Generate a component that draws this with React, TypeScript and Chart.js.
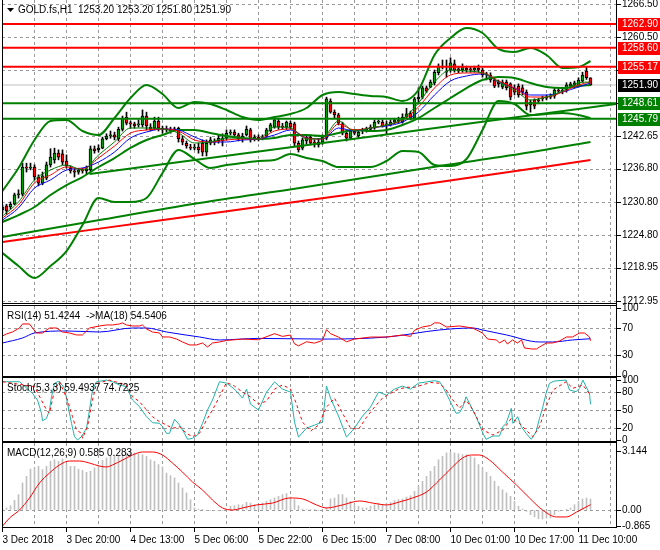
import React, { useEffect, useRef } from 'react';
import { Chart, registerables } from 'chart.js';

Chart.register(...registerables);

const FONT = '"Liberation Sans", Arial, sans-serif';
const GRID = '#9a9a9a';
const X_MIN = -0.125;
const X_MAX = 153.375;

// ---------- labels / ticks ----------
const symbolTitle = 'GOLD.fs,H1';
const xGridIdx = [0, 8, 16, 24, 32, 40, 48, 56, 64, 72, 80, 88, 96, 104, 112, 120, 128, 136, 144, 152];
const xTickLabels = ['3 Dec 2018', '3 Dec 20:00', '4 Dec 13:00', '5 Dec 06:00', '5 Dec 22:00', '6 Dec 15:00', '7 Dec 08:00', '10 Dec 01:00', '10 Dec 17:00', '11 Dec 10:00'];
const priceTicks = [1266.5, 1260.5, 1254.65, 1248.65, 1242.65, 1236.8, 1230.8, 1224.8, 1218.95, 1212.95];
const rsiTicks = [100, 70, 30, 0];
const rsiLevels = [70, 30];
const stochTicks = [100, 80, 50, 20, 0];
const stochLevels = [80, 50, 20];
const macdTicks = [3.144, 0, -0.865];
const macdTickLabels = ['3.144', '0.00', '-0.865'];
const macdLevels = [0];
const rsiLabel = 'RSI(14) 51.4244  ->MA(18) 54.5406';
const stochLabel = 'Stoch(5,3,3) 59.4937 74.7225';
const macdLabel = 'MACD(12,26,9) 0.585 0.283';

// ---------- price levels ----------
const redLevels = [1262.9, 1258.6, 1255.17];
const greenLevels = [1248.61, 1245.79];

// ---------- candles ----------
const openP = [1229.4, 1230.1, 1229.9, 1230.4, 1232.1, 1232.2, 1237.1, 1236.9, 1237.1, 1235.3,
  1234.2, 1235.1, 1237.5, 1238.4, 1239.6, 1239.5, 1238.2, 1236.9, 1236.4, 1236.2,
  1236.6, 1236.4, 1236.6, 1240.4, 1240.2, 1240.5, 1242.2, 1242.7, 1242.9, 1242.2,
  1243.9, 1246.1, 1245.0, 1244.9, 1244.7, 1244.7, 1246.3, 1244.3, 1244.1, 1245.4,
  1244.1, 1243.8, 1243.9, 1243.8, 1244.1, 1242.2, 1241.4, 1240.7, 1240.5, 1240.7,
  1241.4, 1239.8, 1241.4, 1241.8, 1241.8, 1241.8, 1242.3, 1243.2, 1243.4, 1242.9,
  1242.2, 1242.9, 1243.8, 1242.2, 1242.5, 1242.3, 1242.7, 1243.6, 1244.3, 1245.4,
  1244.5, 1244.3, 1245.0, 1244.9, 1241.4, 1240.5, 1241.8, 1242.5, 1241.6, 1241.6,
  1241.6, 1242.3, 1249.0, 1247.0, 1246.5, 1244.9, 1243.2, 1242.3, 1243.6, 1242.7,
  1243.6, 1243.8, 1243.9, 1244.1, 1245.2, 1245.2, 1244.7, 1244.7, 1245.2, 1245.4,
  1245.2, 1246.1, 1246.8, 1245.9, 1249.4, 1249.7, 1251.4, 1251.5, 1252.3, 1254.1,
  1255.3, 1254.2, 1254.6, 1255.7, 1254.8, 1254.6, 1254.9, 1254.8, 1254.6, 1254.9,
  1254.6, 1253.9, 1253.7, 1252.8, 1252.4, 1251.5, 1252.4, 1252.1, 1251.4, 1251.7,
  1251.4, 1250.6, 1248.8, 1249.2, 1249.2, 1249.5, 1249.5, 1249.7, 1249.9, 1251.0,
  1250.8, 1251.0, 1251.7, 1251.9, 1251.7, 1252.6, 1254.4, 1253.2];
const highP = [1230.3, 1230.4, 1230.8, 1232.4, 1233.0, 1237.8, 1237.8, 1237.8, 1237.5, 1235.7,
  1236.2, 1238.0, 1240.4, 1240.5, 1240.2, 1240.2, 1239.3, 1237.3, 1236.8, 1236.9,
  1236.9, 1237.3, 1240.9, 1240.9, 1241.1, 1242.5, 1243.1, 1243.6, 1243.4, 1244.3,
  1246.3, 1247.0, 1245.4, 1245.2, 1245.6, 1247.4, 1247.0, 1244.9, 1246.1, 1246.1,
  1244.5, 1244.5, 1244.3, 1244.3, 1244.3, 1242.7, 1241.8, 1241.2, 1241.2, 1241.4,
  1242.0, 1242.0, 1242.5, 1242.2, 1242.9, 1243.1, 1243.8, 1243.8, 1243.8, 1243.2,
  1243.2, 1244.5, 1244.1, 1242.9, 1242.9, 1242.9, 1244.1, 1245.0, 1245.9, 1245.8,
  1245.0, 1245.4, 1245.4, 1245.2, 1241.8, 1242.3, 1242.9, 1242.9, 1242.0, 1242.2,
  1242.9, 1249.7, 1249.4, 1247.4, 1246.8, 1245.2, 1243.8, 1243.9, 1243.9, 1243.8,
  1244.1, 1244.3, 1244.7, 1245.6, 1245.6, 1245.6, 1245.4, 1245.6, 1245.9, 1246.1,
  1246.7, 1247.7, 1247.2, 1249.7, 1251.4, 1251.7, 1251.7, 1252.8, 1254.6, 1255.7,
  1256.4, 1256.4, 1256.8, 1256.4, 1255.1, 1255.7, 1255.3, 1255.1, 1255.3, 1255.5,
  1254.9, 1254.2, 1254.1, 1253.2, 1252.8, 1252.8, 1252.8, 1252.3, 1251.9, 1252.1,
  1251.9, 1251.0, 1249.2, 1249.4, 1249.5, 1249.9, 1250.1, 1250.3, 1251.4, 1251.4,
  1251.5, 1252.3, 1252.4, 1252.6, 1253.2, 1254.2, 1255.1, 1253.2];
const lowP = [1228.8, 1228.6, 1229.5, 1230.3, 1231.5, 1231.9, 1236.2, 1236.6, 1234.8, 1233.7,
  1233.9, 1234.8, 1237.1, 1237.8, 1238.4, 1237.5, 1236.9, 1236.0, 1235.3, 1235.8,
  1236.0, 1235.8, 1236.2, 1239.6, 1239.8, 1240.4, 1242.0, 1242.3, 1242.0, 1241.8,
  1243.6, 1244.7, 1244.1, 1244.1, 1244.3, 1244.3, 1243.8, 1243.6, 1243.8, 1243.6,
  1243.2, 1243.4, 1243.2, 1243.6, 1241.6, 1241.1, 1240.5, 1240.2, 1240.2, 1239.6,
  1239.1, 1239.1, 1241.1, 1241.1, 1241.4, 1240.9, 1242.0, 1242.9, 1242.5, 1241.8,
  1241.6, 1242.7, 1241.6, 1241.8, 1241.8, 1242.0, 1242.5, 1243.4, 1244.1, 1243.9,
  1243.9, 1243.9, 1243.9, 1240.9, 1239.8, 1240.2, 1241.2, 1241.1, 1240.7, 1240.7,
  1241.2, 1242.0, 1246.8, 1245.9, 1244.7, 1242.9, 1241.8, 1242.2, 1242.9, 1242.3,
  1243.1, 1243.4, 1243.6, 1243.9, 1244.9, 1244.3, 1243.1, 1244.5, 1244.9, 1245.0,
  1245.0, 1245.9, 1245.6, 1245.8, 1248.6, 1249.4, 1250.5, 1251.4, 1251.9, 1253.7,
  1254.8, 1253.3, 1254.2, 1254.2, 1254.1, 1254.2, 1254.2, 1254.2, 1254.2, 1254.2,
  1253.3, 1252.8, 1252.4, 1251.4, 1251.5, 1251.2, 1251.0, 1249.2, 1250.1, 1249.7,
  1250.1, 1247.4, 1247.0, 1247.6, 1248.5, 1249.0, 1249.2, 1249.4, 1249.5, 1250.5,
  1250.3, 1250.6, 1251.4, 1251.4, 1251.5, 1252.4, 1252.9, 1251.8];
const closeP = [1229.9, 1229.2, 1230.4, 1232.1, 1232.2, 1237.1, 1236.9, 1237.1, 1235.3, 1234.2,
  1235.5, 1237.5, 1238.9, 1239.6, 1238.9, 1238.0, 1237.3, 1236.4, 1236.2, 1236.6,
  1236.4, 1236.8, 1240.4, 1240.0, 1240.5, 1242.2, 1242.7, 1242.9, 1242.5, 1243.9,
  1245.9, 1245.0, 1244.9, 1244.5, 1244.9, 1246.3, 1244.5, 1243.9, 1245.4, 1244.1,
  1243.8, 1243.9, 1243.6, 1243.9, 1242.2, 1241.6, 1240.9, 1240.5, 1240.7, 1240.2,
  1239.8, 1241.4, 1242.0, 1241.6, 1242.3, 1242.3, 1243.2, 1243.4, 1242.9, 1242.2,
  1242.7, 1243.9, 1242.0, 1242.5, 1242.2, 1242.5, 1243.8, 1244.7, 1245.6, 1244.3,
  1244.3, 1245.2, 1244.3, 1241.4, 1240.2, 1242.0, 1242.5, 1241.4, 1241.4, 1241.1,
  1242.5, 1249.4, 1247.0, 1246.5, 1245.0, 1243.2, 1242.3, 1243.6, 1243.2, 1243.4,
  1243.8, 1243.9, 1244.3, 1245.2, 1245.4, 1244.5, 1244.9, 1245.2, 1245.6, 1245.6,
  1246.1, 1246.7, 1245.9, 1249.4, 1249.7, 1251.4, 1250.8, 1252.4, 1254.2, 1255.3,
  1255.1, 1254.4, 1255.9, 1254.6, 1254.4, 1255.1, 1254.6, 1254.6, 1254.9, 1254.6,
  1253.7, 1253.7, 1252.8, 1251.7, 1252.1, 1252.4, 1251.4, 1249.7, 1250.6, 1250.1,
  1250.6, 1248.1, 1248.3, 1248.1, 1249.0, 1249.4, 1249.7, 1249.9, 1251.0, 1250.8,
  1251.0, 1251.9, 1252.1, 1252.3, 1252.8, 1253.7, 1253.2, 1251.9];

// ---------- main-panel indicators (sampled every 4 bars) ----------
const sampleIdx = [0, 4, 8, 12, 16, 20, 24, 28, 32, 36, 40, 44, 48, 52, 56, 60, 64, 68, 72, 76, 80, 84, 88, 92, 96, 100, 104, 108, 112, 116, 120, 124, 128, 132, 136, 140, 144, 147];
const bbUpper = [1232.78, 1236.93, 1241.98, 1245.40, 1245.58, 1243.60, 1242.88, 1245.94, 1249.55, 1251.90, 1250.27, 1247.75, 1248.83, 1248.47, 1247.39, 1246.12, 1245.58, 1246.12, 1246.67, 1247.75, 1250.09, 1250.63, 1250.27, 1249.91, 1249.73, 1249.01, 1250.99, 1257.30, 1260.37, 1262.17, 1261.27, 1258.39, 1257.84, 1258.57, 1257.30, 1254.96, 1255.14, 1256.22];
const bbMiddle = [1227.19, 1228.45, 1229.90, 1232.06, 1233.86, 1235.30, 1237.11, 1238.73, 1240.54, 1241.98, 1242.88, 1243.78, 1243.78, 1243.24, 1242.70, 1242.34, 1242.16, 1242.34, 1242.88, 1242.88, 1242.70, 1243.24, 1243.78, 1243.60, 1243.78, 1244.68, 1245.94, 1247.75, 1249.55, 1251.35, 1252.80, 1253.34, 1253.16, 1252.26, 1251.54, 1251.35, 1251.71, 1251.90];
const bbLower = [1221.60, 1219.26, 1217.09, 1219.26, 1221.96, 1226.65, 1231.52, 1230.80, 1230.80, 1231.52, 1236.03, 1240.17, 1238.55, 1236.93, 1237.47, 1237.83, 1238.19, 1238.37, 1239.45, 1238.73, 1238.19, 1237.11, 1237.11, 1237.11, 1238.19, 1239.99, 1239.81, 1237.47, 1237.29, 1238.55, 1243.78, 1249.01, 1248.47, 1246.49, 1246.67, 1246.85, 1246.49, 1245.94];
const maFastGreen = [1228.27, 1230.80, 1234.77, 1236.57, 1237.47, 1236.57, 1239.27, 1241.62, 1244.14, 1244.14, 1243.96, 1243.24, 1241.44, 1241.62, 1242.34, 1242.34, 1242.16, 1244.32, 1244.14, 1242.16, 1242.34, 1245.40, 1243.60, 1244.14, 1244.68, 1245.76, 1248.65, 1252.44, 1254.60, 1254.42, 1254.06, 1252.44, 1250.99, 1249.19, 1249.73, 1250.81, 1252.26, 1252.44];
const maFastRed = [1227.91, 1230.26, 1234.23, 1235.67, 1237.11, 1236.75, 1238.73, 1240.89, 1243.24, 1243.78, 1243.96, 1243.60, 1241.98, 1241.62, 1241.98, 1242.16, 1242.16, 1243.60, 1243.96, 1242.34, 1242.16, 1244.86, 1243.78, 1244.14, 1244.68, 1245.58, 1247.93, 1251.35, 1253.70, 1254.06, 1254.06, 1252.62, 1251.35, 1249.73, 1249.73, 1250.63, 1251.90, 1252.44];
const maFastBlue = [1227.55, 1229.72, 1233.32, 1234.77, 1236.57, 1236.93, 1238.01, 1239.81, 1242.34, 1243.42, 1243.96, 1243.78, 1242.52, 1241.62, 1241.62, 1241.98, 1242.16, 1242.88, 1243.78, 1242.34, 1242.16, 1244.14, 1243.60, 1244.14, 1244.50, 1245.22, 1247.03, 1250.09, 1252.62, 1253.52, 1253.88, 1252.44, 1251.35, 1250.09, 1250.09, 1250.63, 1251.54, 1252.26];
const slowGreenIdx = [0, 24.25, 49.25, 74.25, 109.25, 129.25, 147];
const slowGreenVal = [1224.49, 1227.55, 1230.62, 1233.32, 1237.29, 1239.45, 1241.62];
const slowRedIdx = [0, 24.25, 49.25, 78.5, 109.25, 147];
const slowRedVal = [1223.59, 1226.0, 1228.45, 1231.34, 1234.40, 1238.37];
const trendIdx = [21.75, 153.375];
const trendVal = [1235.85, 1248.47];

// ---------- RSI ----------
const rsiIdx = [0, 1, 2.5, 4.25, 5, 6.75, 7.5, 8.5, 10, 11.75, 13.5, 15, 16.75, 18.5, 20, 21.75, 24.25, 26, 27.5, 29.25, 30, 31, 32.5, 34.25, 35, 36, 37.5, 39.25, 40, 41.75, 43.5, 45, 46.75, 48.5, 50, 51.25, 52.5, 54.25,
  56, 60, 64, 68, 70, 72, 73, 74, 76, 78, 80, 81, 82, 84, 86, 88, 92, 96, 100, 102, 103, 105, 107, 108,
  109.25, 111, 114.25, 117.5, 118.5, 120, 121.25, 123.5, 124.25, 125.5, 126.25, 127.5, 128.75, 129.75, 130.5, 132.25, 133.5, 134.25, 136, 137.5, 139.25, 141, 142.5, 144.25, 145.5, 146.75, 147];
const rsiVal = [58.6, 61.6, 64.5, 70.4, 76.4, 76.4, 70.4, 63.0, 63.0, 70.4, 70.4, 64.5, 63.0, 60.1, 60.1, 70.4, 73.4, 74.9, 74.9, 76.4, 77.9, 74.9, 73.4, 73.4, 74.9, 69.0, 64.5, 63.0, 57.1, 57.1, 54.1, 49.7, 45.3, 45.3, 48.2, 42.3, 48.2, 49.7,
  52, 54, 53, 62, 58, 60, 47, 44, 50, 48, 52, 68, 62, 57, 50, 54, 57, 57, 60, 58, 67, 72, 74, 78,
  77.9, 71.9, 73.4, 70.4, 67.5, 63.0, 54.1, 52.7, 48.2, 52.7, 46.7, 52.7, 48.2, 52.7, 40.8, 39.3, 39.3, 42.3, 48.2, 48.2, 51.2, 57.1, 57.1, 63.0, 63.0, 57.1, 51.42];
const rsiMaIdx = [0, 5, 8, 16, 24.25, 32.5, 36, 41, 49.25, 54.25, 64, 80, 96, 109.25, 117.5, 120, 126, 134.25, 137.5, 142.5, 147];
const rsiMaVal = [48.2, 55.6, 63.0, 66.0, 64.5, 70.4, 70.4, 64.5, 57.1, 52.7, 55, 54, 57, 67.5, 70.4, 67.5, 60.1, 49.7, 49.7, 52.7, 54.54];

// ---------- Stochastic ----------
const stochIdx = [0, 1.75, 4.25, 7.5, 8.75, 9.75, 10, 11, 11.75, 12.25, 13, 13.75, 14.25, 15.5, 16.25, 17.25, 18, 18.75, 19.75, 21, 21.75, 22.5, 23.5, 26, 27.5, 29.25, 31, 32.5, 34.25, 36, 37.5, 39.25, 40, 41, 41.75, 43, 44.25, 45.5, 46.25, 47.5, 48.75, 50, 51.25, 52.5, 54.25,
  56, 58, 60, 61, 62, 64, 66, 68, 70, 72, 73, 74, 76, 78, 80, 81, 82, 84, 86, 88, 90, 92, 94, 96, 98, 100, 102, 104, 106, 108,
  109.25, 110.1, 111.75, 113.4, 114.25, 115.1, 115.9, 116.75, 118.4, 120.1, 120.9, 122.6, 124.25, 125.1, 125.9, 127.2, 127.6, 128.8, 129.7, 130.9, 132.2, 133.4, 134.25, 135.1, 135.9, 136.75, 138, 140.9, 141.75, 143.4, 144.25, 145.1, 145.9, 146.75, 147];
const stochVal = [97.3, 97.3, 97.3, 77.8, 66.8, 44.7, 32.3, 36.3, 50.2, 72.3, 94.5, 97.3, 97.3, 86.3, 61.3, 28.0, 5.7, 0.2, 5.7, 19.7, 50.2, 83.5, 97.3, 100, 97.3, 91.8, 89.0, 66.8, 55.7, 39.0, 29.0, 28.0, 22.3, 11.3, 11.3, 34.7, 25.2, 11.3, 1.3, 3.0, 8.5, 28.0, 50.2, 66.8, 97.3,
  95, 85, 70, 85, 60, 50, 80, 97, 85, 80, 30, 5, 20, 25, 30, 90, 70, 40, 5, 20, 40, 55, 80, 75, 85, 90, 85, 95, 97, 99,
  97.3, 89.0, 66.8, 44.7, 45.7, 55.7, 72.3, 61.3, 39.0, 11.3, 1.3, 6.8, 6.8, 22.3, 28.0, 53.0, 28.0, 39.0, 22.3, 11.3, 1.3, 14.0, 36.3, 55.7, 78.0, 94.7, 98.5, 100, 83.5, 80.7, 86.3, 100, 89.0, 78.0, 59.49];
const signalIdx = [0, 8, 11, 11.75, 13, 14.25, 16.25, 17.5, 18.5, 19.75, 20, 21.25, 22.5, 23.5, 26.75, 31, 32.5, 34.25, 36, 37.5, 39.25, 41, 42.5, 44.25, 46, 47.5, 49.25, 51, 52.5, 54.25,
  56, 58, 60, 62, 64, 66, 68, 70, 72, 73.5, 75, 77, 79, 81, 83, 85, 87, 89, 91, 93, 95, 97, 99, 101, 103, 105, 107,
  109.25, 110.9, 112.6, 114.25, 115.9, 117.6, 120.1, 122.6, 125.1, 127.2, 129.25, 131.3, 132.6, 134.25, 135.9, 137.6, 140.9, 142.6, 145.1, 147];
const signalVal = [97.3, 89.0, 50.2, 44.7, 83.5, 97.3, 66.8, 39.0, 16.8, 11.3, 3.0, 22.3, 66.8, 94.5, 100, 91.8, 72.3, 64.0, 50.2, 39.0, 30.7, 25.2, 19.7, 22.3, 11.3, 5.7, 11.3, 33.5, 50.2, 72.3,
  96, 90, 80, 72, 60, 65, 85, 92, 85, 60, 30, 15, 25, 55, 70, 45, 20, 18, 38, 55, 70, 78, 85, 88, 88, 92, 96,
  94.7, 83.5, 66.8, 53.0, 66.8, 50.2, 16.8, 8.5, 16.8, 36.3, 28.0, 14.0, 5.7, 22.3, 55.7, 83.5, 97.3, 86.3, 91.8, 74.72];

// ---------- MACD ----------
const macdHist = [0.05, 0.11, 0.23, 0.52, 0.82, 1.44, 1.79, 2.18, 2.24, 2.33,
  2.15, 2.33, 2.59, 2.68, 2.59, 2.72, 2.47, 2.33, 2.33, 2.18,
  2.11, 2.01, 2.06, 2.24, 2.33, 2.65, 2.77, 2.86, 2.90, 2.90,
  2.95, 3.04, 3.07, 3.04, 3.00, 2.95, 2.86, 2.68, 2.59, 2.42,
  2.29, 1.97, 1.83, 1.71, 1.44, 1.17, 0.91, 0.55, 0.11, 0.05,
  0.02, -0.02, -0.04, -0.02, -0.04, -0.02, 0.02, 0.20, 0.23, 0.28,
  0.28, 0.41, 0.37, 0.28, 0.28, 0.37, 0.46, 0.55, 0.64, 0.73,
  0.82, 0.87, 0.69, 0.55, 0.23, 0.05, 0.02, 0.02, 0.02, -0.02,
  0.02, 0.11, 0.59, 0.64, 0.82, 0.82, 0.64, 0.46, 0.28, 0.20,
  0.11, 0.11, 0.20, 0.28, 0.37, 0.28, 0.37, 0.41, 0.50, 0.55,
  0.59, 0.69, 0.76, 0.99, 1.26, 1.53, 1.79, 2.06, 2.33, 2.68,
  2.86, 3.04, 3.07, 3.04, 3.00, 2.95, 2.95, 2.86, 2.77, 2.42,
  2.24, 2.01, 1.79, 1.53, 1.26, 1.08, 0.91, 0.73, 0.46, 0.20,
  0.05, -0.07, -0.25, -0.37, -0.46, -0.48, -0.43, -0.43, -0.25, -0.07,
  -0.02, 0.02, 0.11, 0.28, 0.46, 0.59, 0.64, 0.585];
const macdSigIdx = [0, 1.75, 4.25, 6.75, 9.25, 11.75, 14.25, 16.75, 19.25, 21.75, 24.25, 26, 27.5, 30, 32.5, 35, 37.5, 40, 42.5, 45, 47.5, 50, 52.5, 55, 57.5, 60, 63.5, 67.5, 71.75, 75, 78.5, 81, 85, 89.25, 92.5, 96, 99.25, 102.5, 106, 109.25, 112.5, 115, 117.25, 119.25, 121.75, 125, 128.5, 131.75, 135, 138.5, 141, 143.5, 147];
const macdSigVal = [-0.86, -0.43, 0, 0.64, 1.44, 1.97, 2.40, 2.61, 2.61, 2.50, 2.34, 2.29, 2.40, 2.66, 2.93, 3.09, 3.09, 2.93, 2.50, 2.02, 1.49, 1.07, 0.53, 0.11, 0, 0.11, 0.27, 0.37, 0.64, 0.59, 0.27, 0.11, 0.27, 0.48, 0.37, 0.27, 0.43, 0.64, 0.96, 1.60, 2.29, 2.77, 2.93, 2.93, 2.66, 2.02, 1.33, 0.64, 0, -0.37, -0.37, -0.11, 0.283];

// ---------- helpers ----------
const pts = (idx: number[], vals: number[]) => idx.map((x, k) => ({ x, y: vals[k] }));
const hline = (v: number) => [{ x: X_MIN, y: v }, { x: X_MAX, y: v }];
const lastIdx = closeP.length - 1;
const lastPrice = closeP[lastIdx];
const headerText = `${symbolTitle}  ${[openP[lastIdx], highP[lastIdx], lowP[lastIdx], closeP[lastIdx]].map((v) => v.toFixed(2)).join(' ')}`;

const lineDs = (data: any[], color: string, width: number, order: number, extra: any = {}) => ({
  type: 'line', data, borderColor: color, borderWidth: width, pointRadius: 0, fill: false, order, tension: 0, ...extra,
});

const xScale = (showLabels: boolean) => ({
  type: 'linear', min: X_MIN, max: X_MAX, offset: false,
  afterBuildTicks: (axis: any) => { axis.ticks = xGridIdx.map((v) => ({ value: v })); },
  afterFit: (s: any) => {
    s.height = showLabels ? 23 : 0;
    s.paddingLeft = 0; s.paddingRight = 0; s.paddingTop = 0; s.paddingBottom = 0;
  },
  grid: { display: true, offset: false, drawOnChartArea: false, drawTicks: showLabels, tickLength: 4, tickColor: 'rgba(0,0,0,0)' },
  border: { display: false },
  ticks: {
    display: showLabels, autoSkip: false, maxRotation: 0, minRotation: 0, align: 'start', padding: 3,
    color: '#000', font: { family: FONT, size: 10 },
    callback: (_v: any, i: number) => (i % 2 === 0 && xTickLabels[i / 2] ? xTickLabels[i / 2] : ''),
  },
});

const yScale = (min: number, max: number, ticks: number[], labels: string[]) => ({
  type: 'linear', position: 'right', min, max,
  afterBuildTicks: (axis: any) => { axis.ticks = ticks.map((v) => ({ value: v })); },
  afterFit: (s: any) => {
    s.width = 44;
    s.paddingLeft = 0; s.paddingRight = 0; s.paddingTop = 0; s.paddingBottom = 0;
  },
  grid: { display: true, drawOnChartArea: false, drawTicks: true, tickLength: 4, tickColor: 'rgba(0,0,0,0)' },
  border: { display: false },
  ticks: {
    autoSkip: false, padding: 2, color: '#000', font: { family: FONT, size: 10 },
    callback: (_v: any, i: number) => labels[i],
  },
});

const baseOptions = (padding: any, showX: boolean, y: any) => ({
  responsive: false, animation: false, events: [],
  layout: { padding, autoPadding: false },
  plugins: { legend: { display: false }, tooltip: { enabled: false } },
  scales: { x: xScale(showX), y },
});

// dashed grid (3 on / 3 off, built from 1px rects) + tick marks, positioned through the chart's scales
const gridPlugin = (yLevels: number[], yTicks: number[], showXTicks: boolean) => ({
  id: 'mtGrid',
  beforeDatasetsDraw(chart: any) {
    const { ctx, chartArea: a } = chart;
    const xs = chart.scales.x;
    const ys = chart.scales.y;
    const top = Math.round(a.top);
    const bottom = Math.round(a.bottom);
    const left = Math.round(a.left);
    const right = Math.round(a.right);
    ctx.save();
    ctx.fillStyle = GRID;
    xGridIdx.forEach((v) => {
      const px = Math.floor(xs.getPixelForValue(v));
      for (let y = top; y < bottom; y += 6) ctx.fillRect(px, y, 1, Math.min(3, bottom - y));
    });
    yLevels.forEach((v) => {
      const py = Math.round(ys.getPixelForValue(v));
      for (let x = left; x < right; x += 6) ctx.fillRect(x, py, Math.min(3, right - x), 1);
    });
    ctx.restore();
  },
  afterDraw(chart: any) {
    const { ctx, chartArea: a } = chart;
    const xs = chart.scales.x;
    const ys = chart.scales.y;
    const right = Math.round(a.right);
    const bottom = Math.round(a.bottom);
    ctx.save();
    ctx.fillStyle = '#000';
    yTicks.forEach((v) => {
      const py = Math.round(ys.getPixelForValue(v));
      ctx.fillRect(right + 1, py, 4, 1);
    });
    if (showXTicks) {
      xGridIdx.forEach((v, i) => {
        if (i % 2 !== 0) return;
        const px = Math.floor(xs.getPixelForValue(v));
        ctx.fillRect(px, bottom + 1, 1, 4);
      });
    }
    ctx.restore();
  },
});

const panelDecor = (label: string, isLast: boolean) => ({
  id: 'panelDecor',
  afterDraw(chart: any) {
    const { ctx, chartArea: a } = chart;
    ctx.save();
    ctx.strokeStyle = '#000';
    ctx.lineWidth = 1;
    ctx.beginPath();
    const yb = isLast ? a.bottom + 1 : a.bottom + 3;
    ctx.moveTo(a.left + 0.5, a.top - 3); ctx.lineTo(a.left + 0.5, yb);
    ctx.moveTo(a.right + 0.5, a.top - 3); ctx.lineTo(a.right + 0.5, yb);
    ctx.moveTo(a.left, a.top - 0.5); ctx.lineTo(a.right + 1, a.top - 0.5);
    ctx.moveTo(a.left, a.bottom + 0.5); ctx.lineTo(a.right + 1, a.bottom + 0.5);
    ctx.stroke();
    ctx.fillStyle = '#000';
    ctx.font = `10px ${FONT}`;
    ctx.textAlign = 'left';
    ctx.textBaseline = 'middle';
    ctx.fillText(label, a.left + 5, a.top + 10);
    ctx.restore();
  },
});

const mainDecor = {
  id: 'mainDecor',
  afterDraw(chart: any) {
    const { ctx, chartArea: a } = chart;
    const ys = chart.scales.y;
    ctx.save();
    ctx.strokeStyle = '#000';
    ctx.lineWidth = 1;
    ctx.beginPath();
    ctx.moveTo(a.left + 0.5, 0); ctx.lineTo(a.left + 0.5, a.bottom + 3);
    ctx.moveTo(a.right + 0.5, 0); ctx.lineTo(a.right + 0.5, a.bottom + 3);
    ctx.moveTo(a.left, a.bottom + 0.5); ctx.lineTo(a.right + 1, a.bottom + 0.5);
    ctx.stroke();
    const box = (v: number, bg: string) => {
      const py = Math.round(ys.getPixelForValue(v));
      ctx.fillStyle = bg;
      ctx.fillRect(a.right + 2, py - 6, chart.width - a.right - 2, 13);
      ctx.fillStyle = '#fff';
      ctx.font = `10px ${FONT}`;
      ctx.textAlign = 'left';
      ctx.textBaseline = 'middle';
      ctx.fillText(v.toFixed(2), a.right + 6, py + 0.5);
    };
    redLevels.forEach((v) => box(v, '#ff0000'));
    greenLevels.forEach((v) => box(v, '#008000'));
    box(lastPrice, '#000000');
    ctx.fillStyle = '#000';
    ctx.beginPath();
    ctx.moveTo(a.left + 5, 8); ctx.lineTo(a.left + 12, 8); ctx.lineTo(a.left + 8.5, 12); ctx.closePath();
    ctx.fill();
    ctx.font = `10px ${FONT}`;
    ctx.textAlign = 'left';
    ctx.textBaseline = 'middle';
    ctx.fillText(headerText, a.left + 16, 10.5);
    ctx.restore();
  },
};

export default function App() {
  const mainRef = useRef<HTMLCanvasElement>(null);
  const rsiRef = useRef<HTMLCanvasElement>(null);
  const stochRef = useRef<HTMLCanvasElement>(null);
  const macdRef = useRef<HTMLCanvasElement>(null);

  useEffect(() => {
    document.body.style.margin = '0';
    const GREEN = '#008000';
    const RED = '#ff0000';
    const BLUE = '#0000ff';

    const wickData = lowP.map((l, i) => ({ x: i, y: [l, highP[i]] }));
    const bodyData = openP.map((o, i) => ({ x: i, y: [o, closeP[i]] }));
    const bodyColors = openP.map((o, i) => (closeP[i] >= o ? '#00a000' : '#ff0000'));

    const main = new Chart(mainRef.current as any, {
      type: 'bar',
      data: {
        datasets: [
          ...redLevels.map((v) => lineDs(hline(v), RED, 2, 0)),
          ...greenLevels.map((v) => lineDs(hline(v), GREEN, 2, 0)),
          lineDs(pts(sampleIdx, maFastGreen), GREEN, 1, 1, { cubicInterpolationMode: 'monotone' }),
          lineDs(pts(sampleIdx, maFastRed), RED, 1, 1, { cubicInterpolationMode: 'monotone' }),
          lineDs(pts(sampleIdx, maFastBlue), BLUE, 1, 1, { cubicInterpolationMode: 'monotone' }),
          lineDs(pts(sampleIdx, bbUpper), GREEN, 2, 2, { cubicInterpolationMode: 'monotone' }),
          lineDs(pts(sampleIdx, bbMiddle), GREEN, 2, 2, { cubicInterpolationMode: 'monotone' }),
          lineDs(pts(sampleIdx, bbLower), GREEN, 2, 2, { cubicInterpolationMode: 'monotone' }),
          lineDs(pts(trendIdx, trendVal), GREEN, 2, 2),
          lineDs(pts(slowGreenIdx, slowGreenVal), GREEN, 2, 2, { cubicInterpolationMode: 'monotone' }),
          lineDs(pts(slowRedIdx, slowRedVal), RED, 2, 2, { cubicInterpolationMode: 'monotone' }),
          {
            type: 'bar', data: bodyData, backgroundColor: bodyColors, borderColor: '#000', borderWidth: 1,
            borderSkipped: false, barThickness: 3, grouped: false, minBarLength: 1, order: 10,
          },
          {
            type: 'bar', data: wickData, backgroundColor: '#000', borderWidth: 0,
            barThickness: 1, grouped: false, minBarLength: 1, order: 11,
          },
          lineDs(hline(lastPrice), '#c0c0c0', 1, 20),
        ] as any,
      },
      options: baseOptions({ left: 2, right: 0, top: 0, bottom: 7 }, false,
        yScale(1212.59, 1267.22, priceTicks, priceTicks.map((v) => v.toFixed(2)))) as any,
      plugins: [gridPlugin(priceTicks, priceTicks, false), mainDecor],
    });

    const rsi = new Chart(rsiRef.current as any, {
      type: 'line',
      data: {
        datasets: [
          lineDs(pts(rsiIdx, rsiVal), RED, 1, 0),
          lineDs(pts(rsiMaIdx, rsiMaVal), BLUE, 1, 1, { cubicInterpolationMode: 'monotone' }),
        ] as any,
      },
      options: baseOptions({ left: 2, right: 0, top: 8, bottom: 8 }, false,
        yScale(-0.7, 103, rsiTicks, rsiTicks.map((v) => String(v)))) as any,
      plugins: [gridPlugin(rsiLevels, rsiTicks, false), panelDecor(rsiLabel, false)],
    });

    const stoch = new Chart(stochRef.current as any, {
      type: 'line',
      data: {
        datasets: [
          lineDs(pts(stochIdx, stochVal), '#20b2aa', 1, 1),
          lineDs(pts(signalIdx, signalVal), RED, 1, 0, { borderDash: [3, 3] }),
        ] as any,
      },
      options: baseOptions({ left: 2, right: 0, top: 8, bottom: 7 }, false,
        yScale(-1.5, 103.5, stochTicks, stochTicks.map((v) => String(v)))) as any,
      plugins: [gridPlugin(stochLevels, stochTicks, false), panelDecor(stochLabel, false)],
    });

    const macd = new Chart(macdRef.current as any, {
      type: 'bar',
      data: {
        datasets: [
          lineDs(pts(macdSigIdx, macdSigVal), RED, 1, 0, { cubicInterpolationMode: 'monotone' }),
          {
            type: 'bar', data: macdHist.map((v, i) => ({ x: i, y: v })), backgroundColor: '#c0c0c0',
            borderWidth: 0, barThickness: 1, grouped: false, order: 5,
          },
        ] as any,
      },
      options: baseOptions({ left: 2, right: 0, top: 8, bottom: 0 }, true,
        yScale(-0.906, 3.569, macdTicks, macdTickLabels)) as any,
      plugins: [gridPlugin(macdLevels, macdTicks, true), panelDecor(macdLabel, true)],
    });

    return () => {
      main.destroy();
      rsi.destroy();
      stoch.destroy();
      macd.destroy();
    };
  }, []);

  const abs = (top: number): React.CSSProperties => ({ position: 'absolute', left: 0, top });
  return (
    <div style={{ position: 'fixed', left: 0, top: 0, width: 660, height: 550, background: '#fff', overflow: 'hidden' }}>
      <canvas ref={mainRef} width={660} height={310} style={abs(0)} />
      <canvas ref={rsiRef} width={660} height={86} style={abs(298)} />
      <canvas ref={stochRef} width={660} height={78} style={abs(370)} />
      <canvas ref={macdRef} width={660} height={115} style={abs(435)} />
    </div>
  );
}
